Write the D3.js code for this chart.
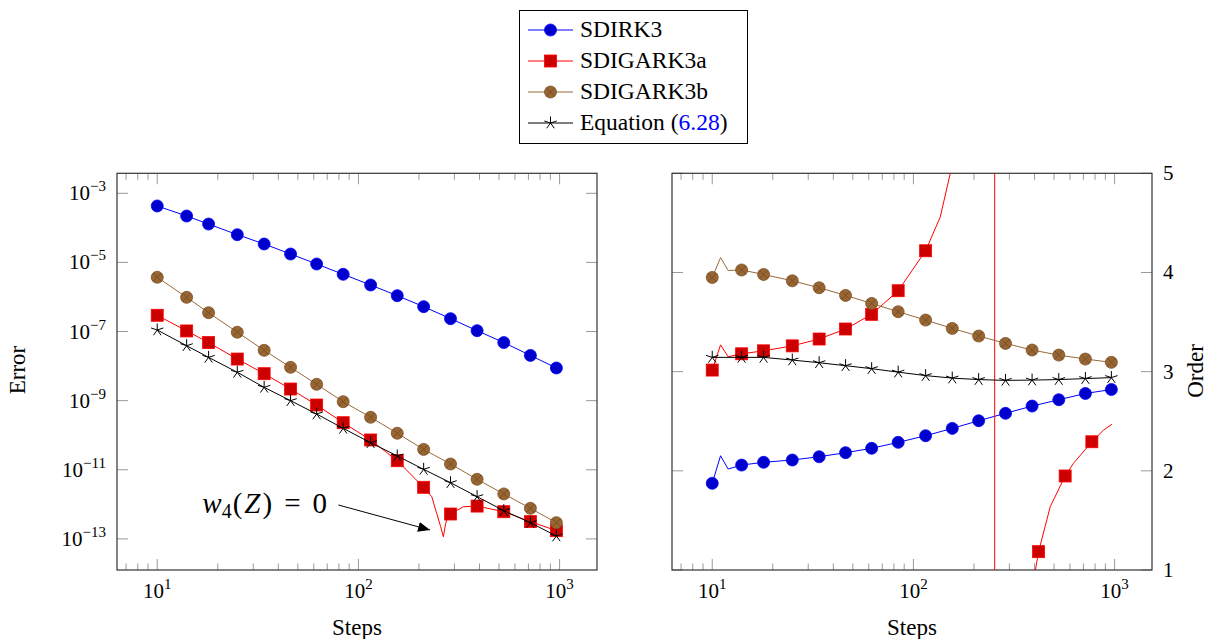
<!DOCTYPE html>
<html>
<head>
<meta charset="utf-8">
<script src="https://cdn.jsdelivr.net/npm/d3@7"></script>
<style>
  body { margin: 0; background: #fff; }
  svg, svg text { font-family: "Liberation Serif", "Times New Roman", "DejaVu Serif", serif; }
</style>
</head>
<body>
<div id="chart"></div>
<script>
// Data

// step counts where the marks sit
const steps = [10, 14, 18, 25, 34, 46, 62, 84, 115, 156, 211, 287, 389, 528, 716, 964];

// error (left panel)
const sdirk3Err = [4.30e-4, 2.20e-4, 1.29e-4, 6.35e-5, 3.41e-5, 1.75e-5, 8.99e-6, 4.53e-6, 2.22e-6, 1.09e-6, 5.25e-7, 2.36e-7, 1.06e-7, 4.79e-8, 2.04e-8, 8.81e-9];
const gark3aErr = [2.95e-7, 1.04e-7, 4.79e-8, 1.60e-8, 6.03e-9, 2.17e-9, 7.48e-10, 2.30e-10, 7.28e-11, 1.83e-11, 3.11e-12, 5.25e-13, 8.91e-13, 6.12e-13, 3.16e-13, 1.73e-13];
const gark3aErrExtra = [[231.6, 1.66e-12], [244.9, 5.50e-13], [256.4, 2.24e-13], [264.4, 1.15e-13], [271.6, 2.82e-13], [280, 4.90e-13], [332, 8.5e-13]];
const gark3bErr = [3.72e-6, 9.77e-7, 3.51e-7, 9.55e-8, 2.86e-8, 9.23e-9, 2.97e-9, 9.33e-10, 3.31e-10, 1.14e-10, 3.89e-11, 1.47e-11, 5.30e-12, 2.00e-12, 7.67e-13, 2.95e-13];
const eqErr = [1.11e-7, 3.89e-8, 1.79e-8, 6.61e-9, 2.43e-9, 1.00e-9, 4.11e-10, 1.58e-10, 6.08e-11, 2.51e-11, 1.03e-11, 4.23e-12, 1.67e-12, 6.55e-13, 2.95e-13, 1.21e-13];

// order (right panel)
const sdirk3Ord = [1.874, 2.058, 2.086, 2.109, 2.142, 2.183, 2.227, 2.287, 2.354, 2.428, 2.505, 2.58, 2.653, 2.717, 2.78, 2.82];
const sdirk3OrdExtra = [[11, 2.152], [12, 2.018]];
const gark3aOrdSteps = [10, 14, 18, 25, 34, 46, 62, 84, 115, 419, 568, 771];
const gark3aOrd = [3.016, 3.18, 3.21, 3.26, 3.329, 3.43, 3.578, 3.816, 4.219, 1.185, 1.948, 2.293];
const gark3aOrdExtra = [[11, 3.27], [12, 3.15], [136, 4.56], [152.5, 5.0], [211, 12], [253, 400], [254, -400], [287, -5], [390, 0.2], [404, 1.0], [478.6, 1.638], [625, 2.076], [881, 2.41], [970, 2.47]];
const gark3bOrd = [3.95, 4.025, 3.98, 3.916, 3.846, 3.769, 3.688, 3.604, 3.52, 3.436, 3.359, 3.285, 3.218, 3.167, 3.127, 3.094];
const gark3bOrdExtra = [[11, 4.15], [12, 4.02]];
const eqOrd = [3.144, 3.144, 3.144, 3.117, 3.09, 3.06, 3.03, 2.995, 2.96, 2.935, 2.92, 2.912, 2.915, 2.92, 2.93, 2.94];

// ticks
const xMajor = [10, 100, 1000];
const yErrTicks = [-3, -5, -7, -9, -11, -13];
const yOrdTicks = [1, 2, 3, 4, 5];

const legendNames = ['SDIRK3', 'SDIGARK3a', 'SDIGARK3b', 'Equation ('];

// annotation: label position, arrow start, arrow end (steps, error)
const annotAt = [69.8, 5.6e-13];
const arrowFrom = [79.5, 9.57e-13];
const arrowTo = [227, 1.81e-13];


// Chart setup
const width = 1210;
const height = 639;
const svg = d3.select('#chart')
  .append('svg')
  .attr('width', width)
  .attr('height', height)
  .attr('font-family', 'Liberation Serif, Times New Roman, serif');

const yTop = 173.3, yBot = 570;
const left = { x0: 117, x1: 597 };
const right = { x0: 672, x1: 1152 };

const xDomain = [Math.pow(10, 0.8), Math.pow(10, 3.186)];
const xL = d3.scaleLog().domain(xDomain).range([left.x0, left.x1]);
const xR = d3.scaleLog().domain(xDomain).range([right.x0, right.x1]);
const yL = d3.scaleLog().domain([Math.pow(10, -13.9), Math.pow(10, -2.4213)]).range([yBot, yTop]);
const yR = d3.scaleLinear().domain([1, 5]).range([yBot, yTop]);

const blue = '#0000ff', red = '#ff0000', brown = '#9a6a3a', black = '#000';

// minor x ticks 2..9 x 10^k inside the domain
const xMinor = [];
for (let k = 0; k < 4; k++) {
  for (let m = 2; m < 10; m++) {
    const v = m * Math.pow(10, k);
    if (v > xDomain[0] && v < xDomain[1]) xMinor.push(v);
  }
}

const pts = (s, v, extra) => s.map((d, i) => [d, v[i]]).concat(extra || []).sort((a, b) => a[0] - b[0]);

// Markers
function drawMark(g, type, x, y) {
  if (type === 'circle') {
    g.append('circle').attr('cx', x).attr('cy', y).attr('r', 6)
      .attr('fill', '#0000cc').attr('stroke', blue).attr('stroke-width', 0.8);
  } else if (type === 'square') {
    g.append('rect').attr('x', x - 6).attr('y', y - 6).attr('width', 12).attr('height', 12)
      .attr('fill', '#cc0000').attr('stroke', red).attr('stroke-width', 0.8);
  } else if (type === 'otimes') {
    g.append('circle').attr('cx', x).attr('cy', y).attr('r', 6)
      .attr('fill', '#996633').attr('stroke', '#7a5024').attr('stroke-width', 0.8);
    const r = 6 * Math.SQRT1_2;
    g.append('path')
      .attr('d', `M${x - r},${y - r}L${x + r},${y + r}M${x - r},${y + r}L${x + r},${y - r}`)
      .attr('stroke', '#6e4820').attr('stroke-width', 0.8);
  } else {
    let d = '';
    for (let k = 0; k < 5; k++) {
      const a = -Math.PI / 2 + k * 2 * Math.PI / 5;
      d += `M${x},${y}L${x + 6.5 * Math.cos(a)},${y + 6.5 * Math.sin(a)}`;
    }
    g.append('path').attr('d', d).attr('stroke', black).attr('stroke-width', 1).attr('fill', 'none');
  }
}

// Panel axes
function drawAxes(p, x, y, yTicks) {
  const g = svg.append('g');
  // x ticks top and bottom
  xMajor.forEach(v => {
    g.append('line').attr('x1', x(v)).attr('x2', x(v)).attr('y1', yBot).attr('y2', yBot - 11);
    g.append('line').attr('x1', x(v)).attr('x2', x(v)).attr('y1', yTop).attr('y2', yTop + 11);
    const t = g.append('text').attr('x', x(v)).attr('y', 598)
      .attr('text-anchor', 'middle').attr('font-size', 21).text('10');
    t.append('tspan').attr('dy', -9).attr('font-size', 15).text(Math.round(Math.log10(v)));
  });
  xMinor.forEach(v => {
    g.append('line').attr('x1', x(v)).attr('x2', x(v)).attr('y1', yBot).attr('y2', yBot - 6.5);
    g.append('line').attr('x1', x(v)).attr('x2', x(v)).attr('y1', yTop).attr('y2', yTop + 6.5);
  });
  yTicks.forEach(v => {
    g.append('line').attr('x1', p.x0).attr('x2', p.x0 + 11).attr('y1', y(v)).attr('y2', y(v));
    g.append('line').attr('x1', p.x1).attr('x2', p.x1 - 11).attr('y1', y(v)).attr('y2', y(v));
  });
  g.selectAll('line').attr('stroke', '#999').attr('stroke-width', 1);

  g.append('rect')
    .attr('x', p.x0).attr('y', yTop)
    .attr('width', p.x1 - p.x0).attr('height', yBot - yTop)
    .attr('fill', 'none').attr('stroke', '#333').attr('stroke-width', 1.2);

  g.append('text').attr('x', (p.x0 + p.x1) / 2).attr('y', 635)
    .attr('text-anchor', 'middle').attr('font-size', 23).text('Steps');
}

function drawSeries(id, x, y, line, marks, color, type) {
  const g = svg.append('g').attr('clip-path', `url(#${id})`);
  g.append('path')
    .datum(line)
    .attr('d', d3.line().x(d => x(d[0])).y(d => y(d[1])))
    .attr('fill', 'none').attr('stroke', color).attr('stroke-width', 1);
  marks.forEach(d => drawMark(g, type, x(d[0]), y(d[1])));
}

const defs = svg.append('defs');
[['clipL', left], ['clipR', right]].forEach(([id, p]) => {
  defs.append('clipPath').attr('id', id)
    .append('rect').attr('x', p.x0).attr('y', yTop).attr('width', p.x1 - p.x0).attr('height', yBot - yTop);
});
defs.append('marker').attr('id', 'arrow')
  .attr('markerUnits', 'userSpaceOnUse')
  .attr('markerWidth', 14).attr('markerHeight', 10)
  .attr('refX', 12).attr('refY', 5).attr('orient', 'auto')
  .append('path').attr('d', 'M0,0L12,5L0,10Z').attr('fill', black);


// Left panel: error
drawAxes(left, xL, yL, yErrTicks.map(e => Math.pow(10, e)));
yErrTicks.forEach(e => {
  const t = svg.append('text').attr('x', 106).attr('y', yL(Math.pow(10, e)) + 7)
    .attr('text-anchor', 'end').attr('font-size', 21).text('10');
  t.append('tspan').attr('dy', -9).attr('font-size', 15).text('\u2212' + Math.abs(e));
});
svg.append('text').attr('transform', 'translate(25,370) rotate(-90)')
  .attr('text-anchor', 'middle').attr('font-size', 23).text('Error');

drawSeries('clipL', xL, yL, pts(steps, sdirk3Err), pts(steps, sdirk3Err), blue, 'circle');
drawSeries('clipL', xL, yL, pts(steps, gark3aErr, gark3aErrExtra), pts(steps, gark3aErr), red, 'square');
drawSeries('clipL', xL, yL, pts(steps, gark3bErr), pts(steps, gark3bErr), brown, 'otimes');
drawSeries('clipL', xL, yL, pts(steps, eqErr), pts(steps, eqErr), black, 'star');

// annotation w4(Z) = 0
const ann = svg.append('text')
  .attr('x', xL(annotAt[0])).attr('y', yL(annotAt[1]))
  .attr('text-anchor', 'end').attr('font-size', 29);
ann.append('tspan').attr('font-style', 'italic').text('w');
ann.append('tspan').attr('font-size', 20).attr('dy', 5).text('4');
ann.append('tspan').attr('dy', -5).attr('dx', 1).text('(');
ann.append('tspan').attr('font-style', 'italic').attr('dx', 2).text('Z');
ann.append('tspan').attr('dx', 2).text(')');
ann.append('tspan').attr('dx', 12).text('=');
ann.append('tspan').attr('dx', 12).text('0');

svg.append('line')
  .attr('x1', xL(arrowFrom[0])).attr('y1', yL(arrowFrom[1]))
  .attr('x2', xL(arrowTo[0])).attr('y2', yL(arrowTo[1]))
  .attr('stroke', black).attr('stroke-width', 1)
  .attr('marker-end', 'url(#arrow)');


// Right panel: order
drawAxes(right, xR, yR, yOrdTicks);
yOrdTicks.forEach(v => {
  svg.append('text').attr('x', 1163).attr('y', yR(v) + 7)
    .attr('font-size', 21).text(v);
});
svg.append('text').attr('transform', 'translate(1203,371) rotate(-90)')
  .attr('text-anchor', 'middle').attr('font-size', 23).text('Order');

drawSeries('clipR', xR, yR, pts(steps, sdirk3Ord, sdirk3OrdExtra), pts(steps, sdirk3Ord), blue, 'circle');
drawSeries('clipR', xR, yR, pts(gark3aOrdSteps, gark3aOrd, gark3aOrdExtra), pts(gark3aOrdSteps, gark3aOrd), red, 'square');
drawSeries('clipR', xR, yR, pts(steps, gark3bOrd, gark3bOrdExtra), pts(steps, gark3bOrd), brown, 'otimes');
drawSeries('clipR', xR, yR, pts(steps, eqOrd), pts(steps, eqOrd), black, 'star');


// Legend
const legend = svg.append('g');
legend.append('rect')
  .attr('x', 519.5).attr('y', 10.5).attr('width', 228).attr('height', 133)
  .attr('fill', '#fff').attr('stroke', black).attr('stroke-width', 1);

const legendStyle = [[blue, 'circle'], [red, 'square'], [brown, 'otimes'], [black, 'star']];
legendNames.forEach((name, i) => {
  const ly = 30 + i * 31;
  legend.append('line').attr('x1', 528).attr('x2', 573).attr('y1', ly).attr('y2', ly)
    .attr('stroke', legendStyle[i][0]).attr('stroke-width', 1);
  drawMark(legend, legendStyle[i][1], 550.5, ly);
  const t = legend.append('text').attr('x', 580).attr('y', ly + 7).attr('font-size', 23.5).text(name);
  if (i === 3) {
    t.append('tspan').attr('fill', blue).text('6.28');
    t.append('tspan').text(')');
  }
});
</script>
</body>
</html>
